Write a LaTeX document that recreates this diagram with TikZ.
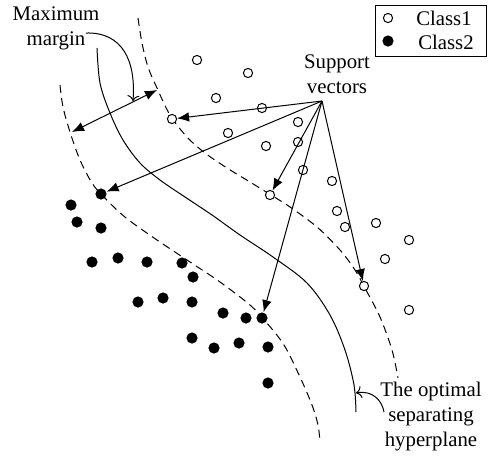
\documentclass[tikz,border=0pt]{standalone}
\usepackage{fontspec}
\setmainfont{Liberation Serif}
\usetikzlibrary{arrows.meta}
\begin{document}
\begin{tikzpicture}[x=0.5pt,y=-0.5pt,
  line width=0.5pt,
  cone/.style={circle,draw,line width=0.5pt,inner sep=0pt,minimum size=4.6pt},
  ctwo/.style={circle,fill,inner sep=0pt,minimum size=5.6pt},
  lbl/.style={font=\fontsize{10.4pt}{12.5pt}\selectfont,align=center,inner sep=0pt},
  dsh/.style={dash pattern=on 4pt off 2.6pt},
  tipf/.tip={Latex[length=6pt,width=4.8pt]},
  tipo/.tip={To[length=2.8pt,width=6pt]}]
\useasboundingbox (0,0) rectangle (488,462);
% curves
\draw plot[smooth,tension=0.55] coordinates {(97,48) (100,83) (110,113) (123,140) (140,163) (160,180) (185,197) (212,215) (240,235) (273,257) (307,283) (330,315) (345,350) (354,385) (356,412)};
\draw[dsh] plot[smooth,tension=0.55] coordinates {(60,85) (63,107) (70,132) (80,160) (92,183) (102,195) (117,210) (130,221) (157,240) (190,262) (220,282) (250,305) (266,322) (284,345) (300,377) (312,405) (318,425) (320,442)};
\draw[dsh] plot[smooth,tension=0.55] coordinates {(138,18) (142,43) (148,67) (157,88) (170,115) (187,137) (205,153) (227,168) (250,182) (271,195) (290,207) (317,227) (340,250) (355,270) (366,290) (380,317) (392,350) (398,378)};
% class 1
\foreach \n/\p in {o1/{197,60},o2/{248,73},o3/{216,98},o4/{262,108},sv1/{172,119},o5/{228,133},o6/{298,122},o7/{266,146},o8/{298,142},o9/{303,170},sv2/{270,195},o10/{332,181},o11/{337,211},o12/{345,227},o13/{376,223},o14/{409,240},o15/{385,259},sv3/{364,286},o16/{409,310}}
  \node[cone,fill=white] (\n) at (\p) {};
% class 2
\foreach \n/\p in {sv4/{101,194},f1/{71,205},f2/{77,222},f3/{101,228},f4/{92,262},f5/{118,258},f6/{147,262},f7/{182,263},f8/{193,277},f9/{138,302},f10/{163,298},f11/{192,302},f12/{223,313},f13/{246,318},sv5/{262,318},f14/{192,338},f15/{214,348},f16/{239,343},f17/{268,347},f18/{268,383}}
  \node[ctwo] (\n) at (\p) {};
% labels
\node[lbl] (mm) at (56,28) {Maximum\\margin};
\node[lbl] (svl) at (337,74) {Support\\vectors};
\node[lbl] (hpl) at (431,417) {The optimal\\separating\\hyperplane};
% support vector arrows
\coordinate (svo) at (322,101);
\foreach \t in {sv1,sv4,sv2,sv5,sv3}
  \draw[-tipf] (svo) -- (\t);
% maximum margin
\coordinate (ma) at (72,132);
\coordinate (mb) at (157,90);
\draw[tipf-tipf] (ma) -- (mb);
\coordinate (mms) at (86,33);
\coordinate (mme) at (133,101);
\draw[-tipo] (mms) .. controls (122,32) and (136,60) .. (mme);
% hyperplane arrow
\coordinate (hps) at (384,412);
\coordinate (hpe) at (356,393);
\draw[-tipo] (hps) .. controls (382,400) and (372,390) .. (hpe);
% legend
\draw (375,5) rectangle (486.5,56);
\node[cone] (l1) at (388,18) {};
\node[ctwo] (l2) at (388,41) {};
\node[lbl] (t1) at (444,18) {Class1};
\node[lbl] (t2) at (446,42) {Class2};
\end{tikzpicture}
\end{document}
